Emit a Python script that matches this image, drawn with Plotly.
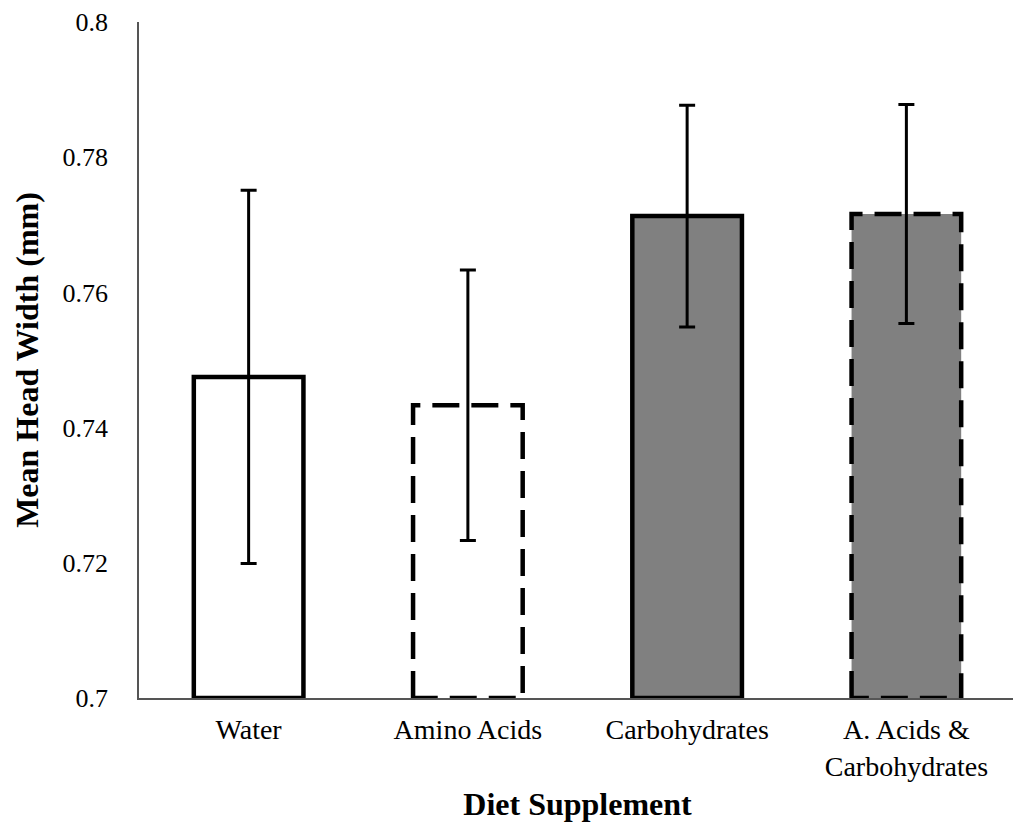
import plotly.graph_objects as go

categories = ["Water", "Amino Acids", "Carbohydrates", "A. Acids &<br>Carbohydrates"]
means = [0.7475, 0.7433, 0.7713, 0.7716]
errors = [0.0276, 0.0200, 0.0164, 0.0162]
fills = ["white", "white", "#808080", "#808080"]
dashes = ["solid", "27px,12px", "solid", "27px,12px"]

base = 0.7
bar_w = 0.5
xs = list(range(len(categories)))

fig = go.Figure()
fig.add_trace(go.Bar(
    x=xs, y=[m - base for m in means], base=base, width=bar_w,
    marker=dict(color=fills, line=dict(width=0)),
    error_y=dict(type="data", array=errors, color="black", thickness=3, width=8),
    showlegend=False,
))
for i, (m, d) in enumerate(zip(means, dashes)):
    x0, x1 = xs[i] - bar_w / 2, xs[i] + bar_w / 2
    fig.add_trace(go.Scatter(
        x=[x0, x0, x1, x1, x0], y=[base, m, m, base, base],
        mode="lines", line=dict(color="black", width=4.5, dash=d),
        showlegend=False, hoverinfo="skip",
    ))

font_family = "Liberation Serif, Times New Roman, serif"
fig.update_layout(
    width=1013, height=814,
    margin=dict(l=131, r=5, t=14, b=124),
    plot_bgcolor="white", paper_bgcolor="white",
    font=dict(family=font_family, color="black", size=28),
    xaxis=dict(
        range=[-0.5, 3.5], tickmode="array", tickvals=xs, ticktext=categories,
        showline=True, linecolor="#555", linewidth=1.5, showgrid=False, zeroline=False,
        ticks="", ticklabelstandoff=6, tickfont=dict(size=28), automargin=False,
        title=dict(text="<b>Diet Supplement</b>", font=dict(size=32), standoff=12),
    ),
    yaxis=dict(
        range=[0.7, 0.8], tickvals=[0.7, 0.72, 0.74, 0.76, 0.78, 0.8],
        ticktext=["0.7", "0.72", "0.74", "0.76", "0.78", "0.8"],
        showline=True, linecolor="#555", linewidth=1.5, showgrid=False, zeroline=False,
        ticks="", ticklabelstandoff=24, tickfont=dict(size=26), automargin=False,
        title=dict(text="<b>Mean Head Width (mm)</b>", font=dict(size=32), standoff=14),
    ),
)
fig.write_html("out.html")
